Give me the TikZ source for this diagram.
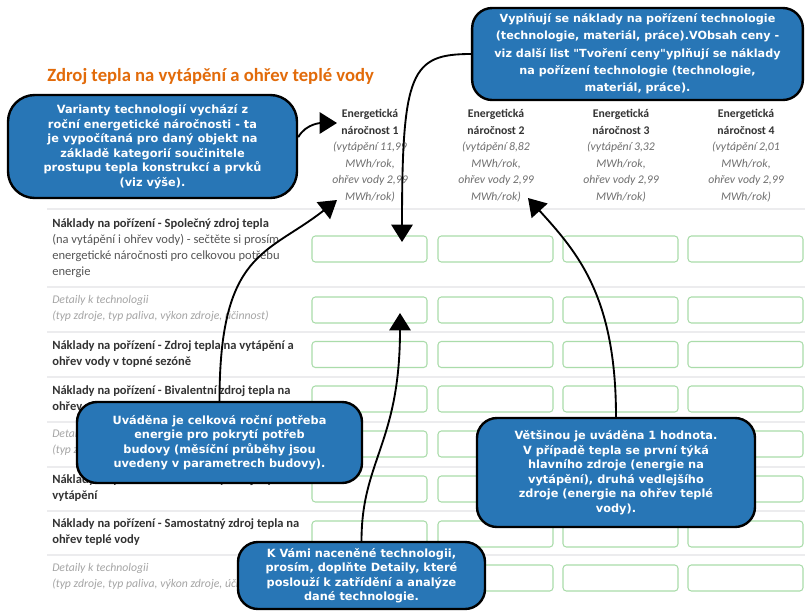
\documentclass[tikz,border=0pt]{standalone}
\usepackage{fontspec}
\setmainfont{Carlito}
\newfontfamily\boxfont{DejaVu Sans}
\usetikzlibrary{arrows.meta}
\definecolor{calloutblue}{RGB}{40,118,182}
\definecolor{titleorange}{RGB}{226,107,10}
\definecolor{fieldgreen}{RGB}{170,220,170}
\definecolor{rulegray}{RGB}{236,236,238}
\definecolor{labeldark}{RGB}{51,51,51}
\definecolor{labelgray}{RGB}{85,85,85}
\definecolor{headgray}{RGB}{110,110,110}
\definecolor{detailgray}{RGB}{165,165,165}
\begin{document}
\begin{tikzpicture}[x=0.75pt,y=-0.75pt,
  callout/.style={draw=black,line width=1.8pt,fill=calloutblue,rounded corners=15pt,text=white,align=center,inner sep=0pt,
    font=\boxfont\bfseries\fontsize{8.5}{10.9}\selectfont},
  field/.style={draw=fieldgreen,line width=0.8pt,rounded corners=2.5pt,minimum width=86.25pt,minimum height=19.5pt,inner sep=0pt},
  head/.style={anchor=north,align=center,inner sep=0pt,text=labeldark,font=\fontsize{8.8}{12.4}\selectfont},
  lbl/.style={anchor=north west,align=left,inner sep=0pt,text=labeldark,font=\fontsize{9.4}{12}\selectfont\bfseries},
  detail/.style={text=detailgray,font=\fontsize{8.8}{12}\selectfont\itshape},
  rule/.style={draw=rulegray,line width=0.8pt},
  arr/.style={line width=1.4pt,-{Triangle[length=13pt,width=16pt]}}]
\fill[white] (0,0) rectangle (805,612);
\useasboundingbox (0,0) rectangle (805,612);

\node[anchor=west,inner sep=0pt,text=titleorange,font=\bfseries\fontsize{14}{16}\selectfont] (title) at (47,77)
  {Zdroj tepla na vytápění a ohřev teplé vody};

% hlavicka
\node[head] (h1) at (370,109) {\textbf{Energetická}\\ \textbf{náročnost 1}\\
  \textcolor{headgray}{\itshape (vytápění 11,99}\\ \textcolor{headgray}{\itshape MWh/rok,}\\
  \textcolor{headgray}{\itshape ohřev vody 2,99}\\ \textcolor{headgray}{\itshape MWh/rok)}};
\node[head] (h2) at (496,109) {\textbf{Energetická}\\ \textbf{náročnost 2}\\
  \textcolor{headgray}{\itshape (vytápění 8,82}\\ \textcolor{headgray}{\itshape MWh/rok,}\\
  \textcolor{headgray}{\itshape ohřev vody 2,99}\\ \textcolor{headgray}{\itshape MWh/rok)}};
\node[head] (h3) at (621,109) {\textbf{Energetická}\\ \textbf{náročnost 3}\\
  \textcolor{headgray}{\itshape (vytápění 3,32}\\ \textcolor{headgray}{\itshape MWh/rok,}\\
  \textcolor{headgray}{\itshape ohřev vody 2,99}\\ \textcolor{headgray}{\itshape MWh/rok)}};
\node[head] (h4) at (746,109) {\textbf{Energetická}\\ \textbf{náročnost 4}\\
  \textcolor{headgray}{\itshape (vytápění 2,01}\\ \textcolor{headgray}{\itshape MWh/rok,}\\
  \textcolor{headgray}{\itshape ohřev vody 2,99}\\ \textcolor{headgray}{\itshape MWh/rok)}};

\foreach \y in {209,287,332,377,422,467,511,555}
  \draw[rule] (47,\y) -- (805,\y);

% radky
\node[lbl] (l1) at (52,218) {Náklady na pořízení - Společný zdroj tepla\\
  \textcolor{labelgray}{\mdseries (na vytápění i ohřev vody) - sečtěte si prosím}\\
  \textcolor{labelgray}{\mdseries energetické náročnosti pro celkovou potřebu}\\
  \textcolor{labelgray}{\mdseries energie}};
\node[lbl,detail] (l2) at (52,295) {Detaily k technologii\\ (typ zdroje, typ paliva, výkon zdroje, účinnost)};
\node[lbl] (l3) at (52,340) {Náklady na pořízení - Zdroj tepla na vytápění a\\ ohřev vody v topné sezóně};
\node[lbl] (l4) at (52,385) {Náklady na pořízení - Bivalentní zdroj tepla na\\ ohřev};
\node[lbl,detail] (l5) at (52,429) {Detaily k technologii\\ (typ zdroje, typ paliva, výkon zdroje, účinnost)};
\node[lbl] (l6) at (52,474) {Náklady na pořízení - Samostatný zdroj tepla na\\ vytápění};
\node[lbl] (l7) at (52,518) {Náklady na pořízení - Samostatný zdroj tepla na\\ ohřev teplé vody};
\node[lbl,detail] (l8) at (52,563) {Detaily k technologii\\ (typ zdroje, typ paliva, výkon zdroje, účinnost)};

\foreach \r/\y in {1/249,2/310,3/354.5,4/399,5/444,6/489,7/534,8/578}
  \foreach \c/\x in {1/369.5,2/495.5,3/620.5,4/745.5}
    \node[field] (f\r\c) at (\x,\y) {};

% bubliny
\node[callout,minimum width=248pt,minimum height=69pt,font=\boxfont\bfseries\fontsize{8.4}{13}\selectfont] (cTop) at (637.5,54)
  {Vyplňují se náklady na pořízení technologie\\ (technologie, materiál, práce).VObsah ceny -\\
   viz další list "Tvoření ceny"yplňují se náklady\\ na pořízení technologie (technologie,\\ materiál, práce).};
\node[callout,minimum width=216.75pt,minimum height=77.25pt,rounded corners=20pt] (cLeft) at (152.5,146.5)
  {Varianty technologií vychází z\\ roční energetické náročnosti - ta\\ je vypočítaná pro daný objekt na\\
   základě kategorií součinitele\\ prostupu tepla konstrukcí a prvků\\ (viz výše).};
\node[callout,minimum width=213.75pt,minimum height=60.75pt] (cTotal) at (219.5,442.5)
  {Uváděna je celková roční potřeba\\ energie pro pokrytí potřeb\\ budovy (měsíční průběhy jsou\\ uvedeny v parametrech budovy).};
\node[callout,minimum width=208.5pt,minimum height=81.75pt] (cOne) at (616,472.5)
  {Většinou je uváděna 1 hodnota.\\ V případě tepla se první týká\\ hlavního zdroje (energie na\\
   vytápění), druhá vedlejšího\\ zdroje (energie na ohřev teplé\\ vody).};
\node[callout,minimum width=185.25pt,minimum height=50.25pt] (cDetail) at (361.5,575.5)
  {K Vámi naceněné technologii,\\ prosím, doplňte Detaily, které\\ poslouží k zatřídění a analýze\\ dané technologie.};

\coordinate (t1) at (402,242);
\coordinate (t2) at (337,123);
\coordinate (t3) at (337,200);
\coordinate (t4) at (400,313);
\coordinate (t5) at (528,198);

\draw[arr] (cTop.west) .. controls +(-60,0) and +(0,-170) .. (t1);
\draw[arr] ([yshift=7pt]cLeft.east) .. controls +(8,-14) and +(-15,0) .. (t2);
\draw[arr] (cTotal.north) .. controls +(0,-150) and +(-70,55) .. (t3);
\draw[arr] (cDetail.north) .. controls +(0,-80) and +(0,130) .. (t4);
\draw[arr] (cOne.north) .. controls +(0,-120) and +(50,55) .. (t5);
\end{tikzpicture}
\end{document}
